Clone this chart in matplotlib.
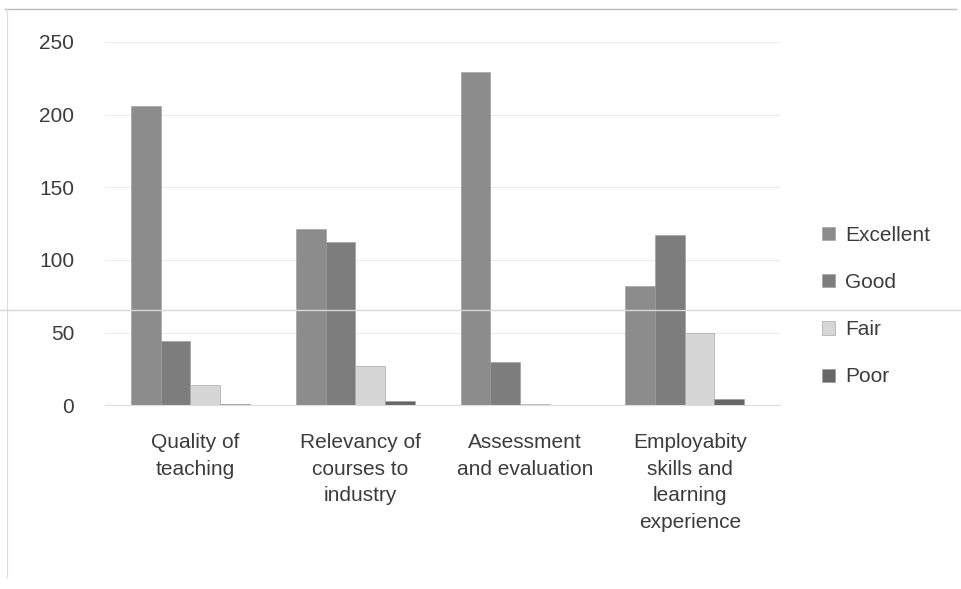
import matplotlib
matplotlib.use("Agg")
import matplotlib.pyplot as plt
import numpy as np

plt.rcParams['font.family'] = ['Liberation Sans Narrow', 'Liberation Sans', 'DejaVu Sans']

# data
categories = ["Quality of\nteaching", "Relevancy of\ncourses to\nindustry",
              "Assessment\nand evaluation", "Employabity\nskills and\nlearning\nexperience"]
series = ["Excellent", "Good", "Fair", "Poor"]
excellent = [206, 121, 229, 82]
good = [44, 112, 30, 117]
fair = [14, 27, 1, 50]
poor = [1, 3, 0, 4]
values = [excellent, good, fair, poor]
colors = ["#8c8c8c", "#7d7d7d", "#d6d6d6", "#666666"]

fig = plt.figure(figsize=(9.61, 5.89), dpi=100)
ax = fig.add_axes([0.109, 0.312, 0.703, 0.617])

x = np.arange(len(categories))
w = 0.18
for i, (name, vals) in enumerate(zip(series, values)):
    ax.bar(x + (i - 1.5) * w - 0.03, vals, w, color=colors[i], label=name,
           edgecolor="#9a9a9a", linewidth=0.4)

ax.set_ylim(0, 250)
ax.set_xlim(-0.55, 3.55)
ax.set_yticks(range(0, 251, 50))
ax.yaxis.grid(True, color="#ececec", linewidth=0.8)
ax.set_axisbelow(True)
for s in ["top", "right", "left"]:
    ax.spines[s].set_visible(False)
ax.spines["bottom"].set_color("#dddddd")
ax.tick_params(length=0, labelsize=15, colors="#3c3c3c")
ax.tick_params(axis="y", pad=22)
ax.tick_params(axis="x", pad=20, labelsize=15)
ax.set_xticks(x)
ax.set_xticklabels(categories, linespacing=1.5)

leg = fig.legend(loc="center left", bbox_to_anchor=(0.836, 0.48), frameon=False,
                 fontsize=15, handlelength=0.6, handleheight=0.6,
                 handletextpad=0.5, labelspacing=1.35)
for t in leg.get_texts():
    t.set_color("#3c3c3c")

# faint scan border / fold line
fig.add_artist(plt.Line2D([0.005, 0.995], [0.985, 0.985], color="#bbbbbb", linewidth=1))
fig.add_artist(plt.Line2D([0.0, 1.0], [0.473, 0.473], color="#d8d8d8", linewidth=1))
fig.add_artist(plt.Line2D([0.007, 0.007], [0.02, 0.985], color="#dddddd", linewidth=0.8))

fig.savefig("out.png", dpi=100)
